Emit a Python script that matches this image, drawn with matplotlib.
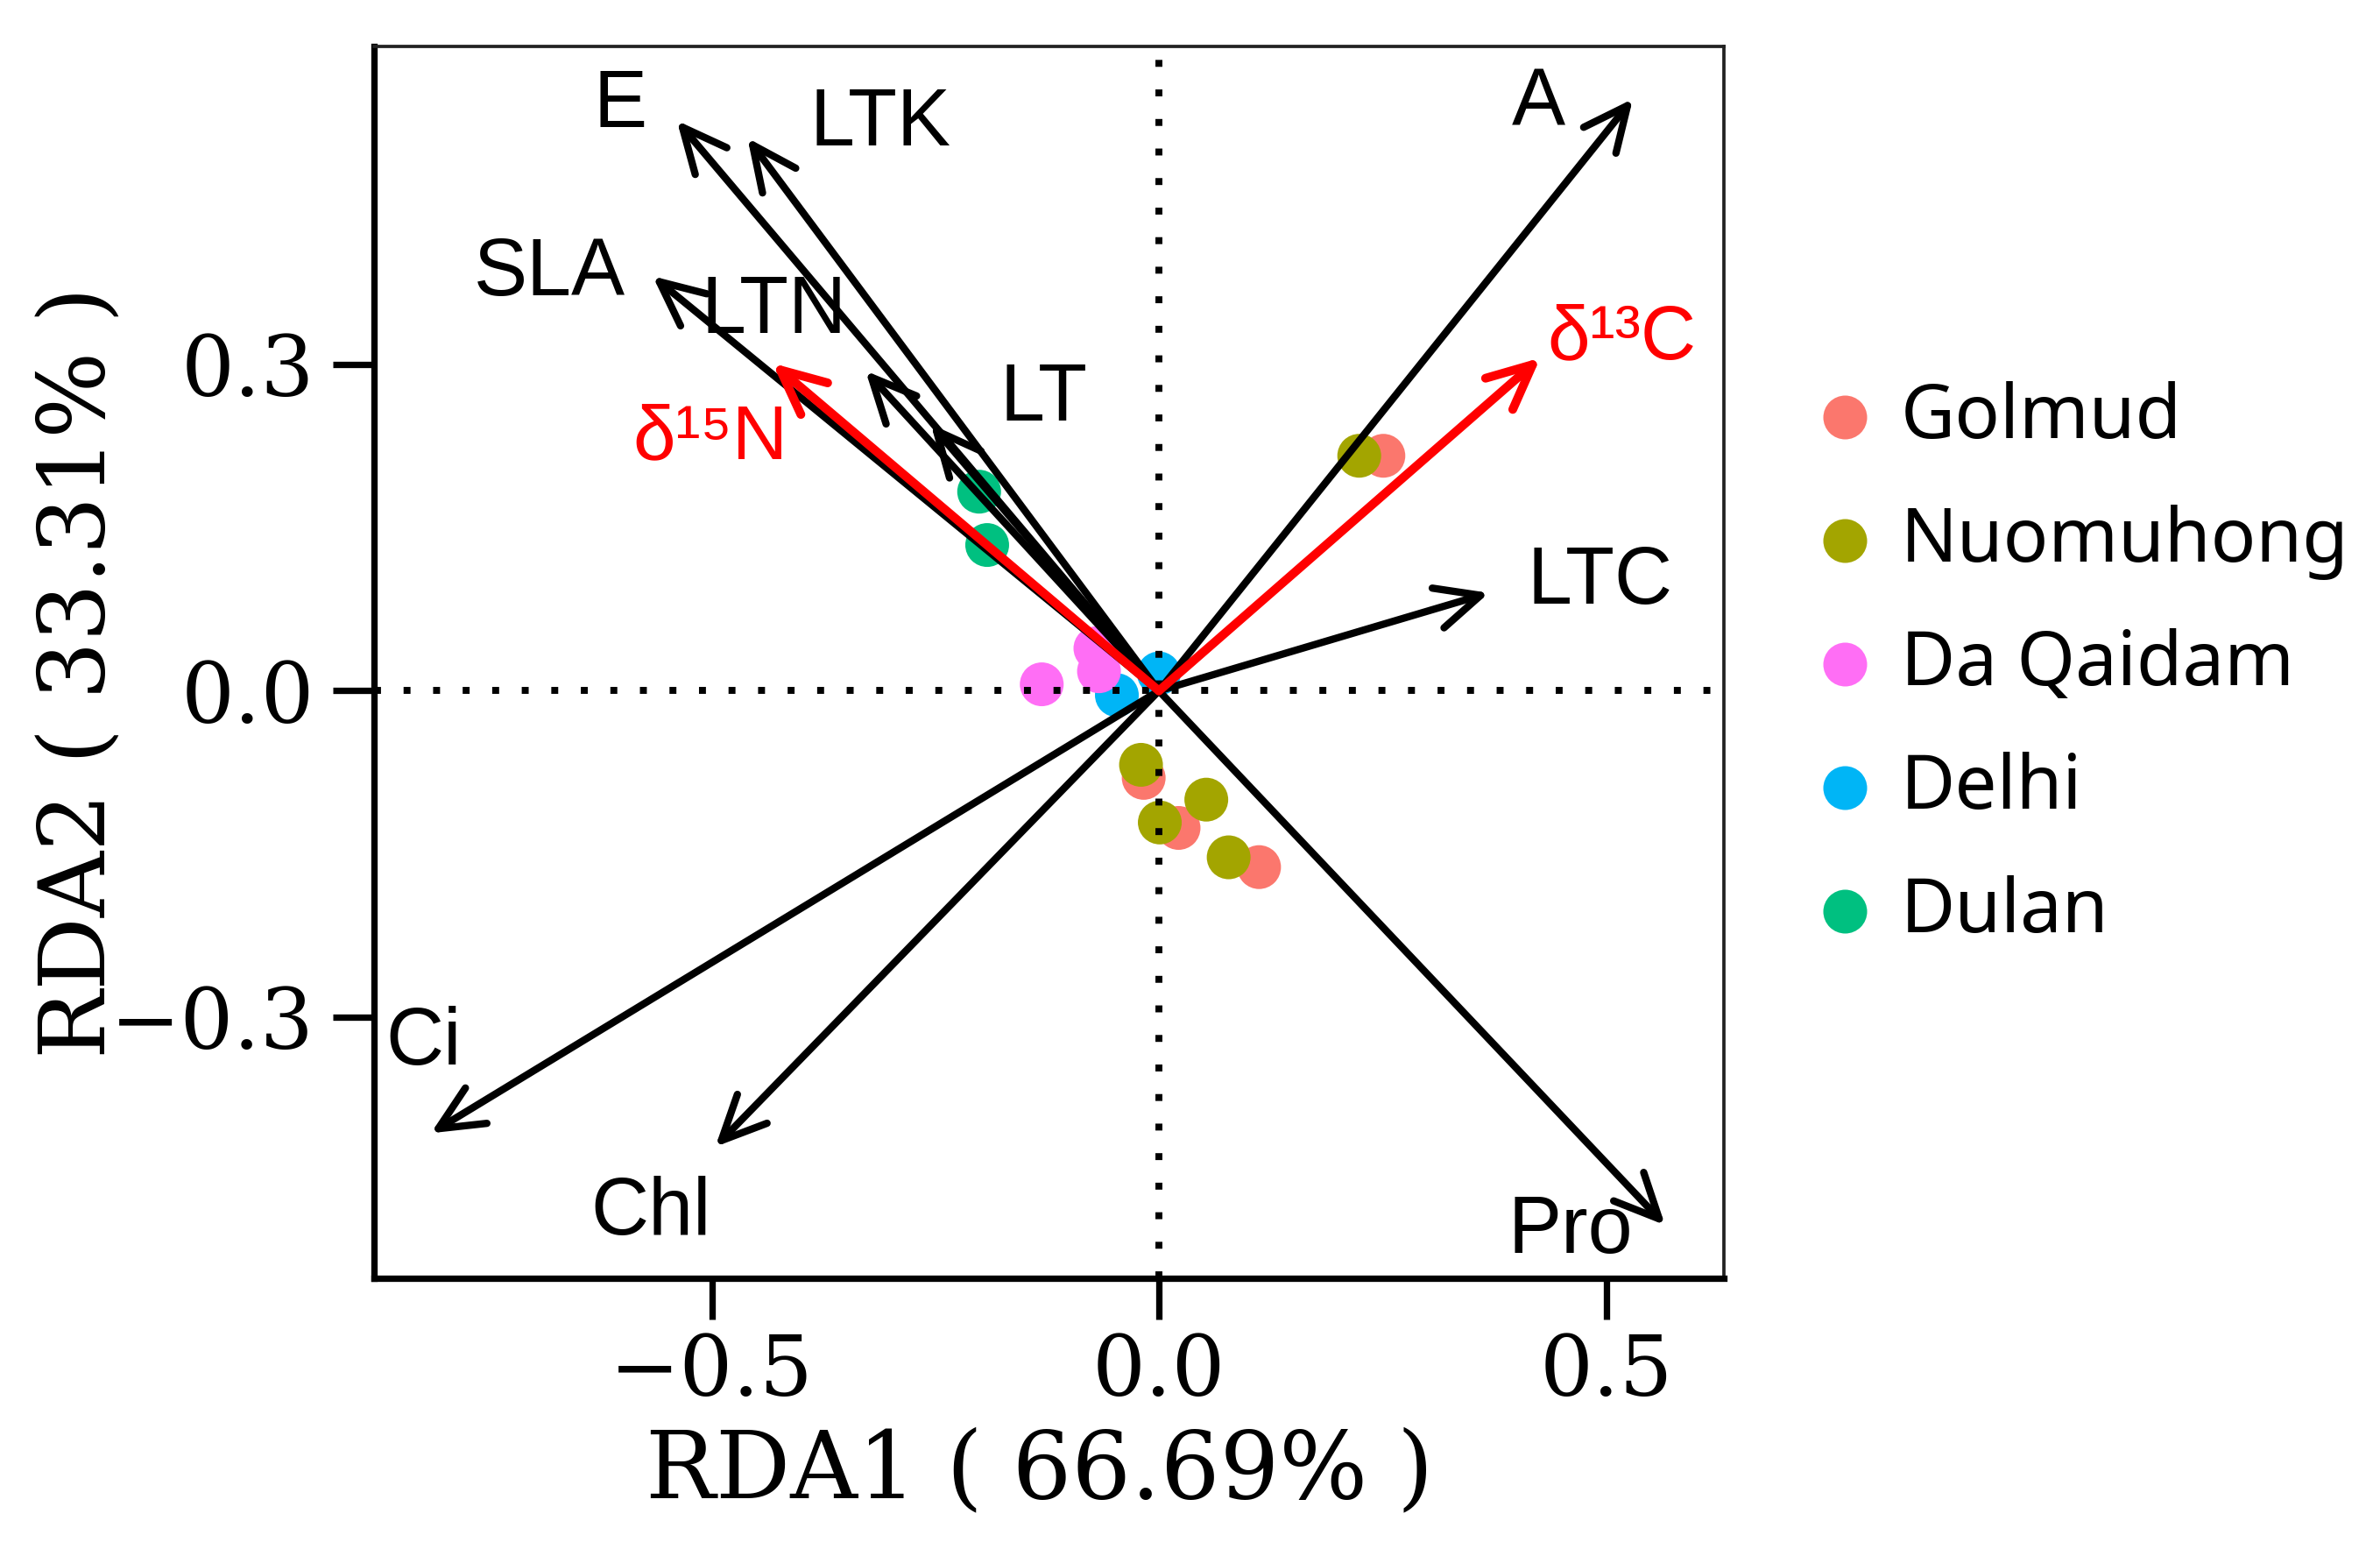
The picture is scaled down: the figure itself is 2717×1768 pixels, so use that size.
import matplotlib
matplotlib.use("Agg")
import matplotlib.pyplot as plt
from matplotlib.patches import ArrowStyle
from matplotlib.lines import Line2D

plt.rcParams["font.family"] = ["Liberation Sans", "DejaVu Sans"]

# sites (scores on RDA1 / RDA2)
groups = ["Golmud", "Nuomuhong", "Da Qaidam", "Delhi", "Dulan"]
colors = ["#FB776D", "#A3A500", "#FF6EF5", "#00B5F6", "#00C080"]

golmud_x = [0.251, -0.017, 0.022, 0.112]
golmud_y = [0.216, -0.080, -0.126, -0.162]
nuomuhong_x = [0.224, -0.020, 0.053, 0.001, 0.078]
nuomuhong_y = [0.216, -0.068, -0.100, -0.121, -0.153]
daqaidam_x = [-0.131, -0.067, -0.071]
daqaidam_y = [0.006, 0.018, 0.039]
delhi_x = [-0.047, 0.000]
delhi_y = [-0.004, 0.016]
dulan_x = [-0.201, -0.192]
dulan_y = [0.183, 0.134]

site_x = {"Golmud": golmud_x, "Nuomuhong": nuomuhong_x, "Da Qaidam": daqaidam_x,
          "Delhi": delhi_x, "Dulan": dulan_x}
site_y = {"Golmud": golmud_y, "Nuomuhong": nuomuhong_y, "Da Qaidam": daqaidam_y,
          "Delhi": delhi_y, "Dulan": dulan_y}
draw_order = ["Golmud", "Nuomuhong", "Delhi", "Da Qaidam", "Dulan"]

# trait vectors (arrow tips)
traits = ["E", "LTK", "SLA", "LTN", "LT", "A", "LTC", "Ci", "Chl", "Pro"]
trait_x = [-0.539, -0.460, -0.566, -0.328, -0.255, 0.530, 0.369, -0.814, -0.496, 0.566]
trait_y = [0.524, 0.508, 0.381, 0.294, 0.245, 0.544, 0.090, -0.4065, -0.419, -0.491]

# isotope vectors (red)
iso = ["δ¹⁵N", "δ¹³C"]
iso_x = [-0.432, 0.4265]
iso_y = [0.301, 0.306]

# label placement (centre x, baseline y)
trait_lab_x = [-0.6025, -0.3118, -0.681, -0.4306, -0.1285, 0.4248, 0.4936, -0.8224, -0.568, 0.4597]
trait_lab_y = [0.5178, 0.5014, 0.3638, 0.3289, 0.2487, 0.519, 0.0801, -0.3434, -0.4998, -0.5165]
iso_lab_x = [-0.588, 0.4346]
iso_lab_y = [0.2138, 0.3056]

W, H = 2717, 1768
fig = plt.figure(figsize=(W / 300, H / 300), dpi=300)
ax = fig.add_axes([426.5 / W, 1 - 1459 / H, (1967.7 - 426.5) / W, (1459 - 52.6) / H])

for g in draw_order:
    c = colors[groups.index(g)]
    ax.scatter(site_x[g], site_y[g], s=144, color=c, edgecolors="none", zorder=2)

ax.axhline(0, color="black", lw=1.9, ls=(0, (1, 3.26)), dash_capstyle="butt", zorder=3)
ax.axvline(0, color="black", lw=1.9, ls=(0, (1, 3.26)), dash_capstyle="butt", zorder=3)

head = ArrowStyle("->", head_length=0.45, head_width=0.21)
for name, x, y, lx, ly in zip(traits, trait_x, trait_y, trait_lab_x, trait_lab_y):
    ax.annotate("", xy=(x, y), xytext=(0, 0),
                arrowprops=dict(arrowstyle=head, lw=2.0, color="black", mutation_scale=27,
                                shrinkA=0, shrinkB=0), zorder=4)
    ax.text(lx, ly, name, fontsize=22, ha="center", va="baseline", color="black", zorder=5)

red = "#FF0000"
for name, x, y, lx, ly in zip(iso, iso_x, iso_y, iso_lab_x, iso_lab_y):
    ax.annotate("", xy=(x, y), xytext=(0, 0),
                arrowprops=dict(arrowstyle=head, lw=2.4, color=red, mutation_scale=27,
                                shrinkA=0, shrinkB=0), zorder=4)
    ax.text(lx, ly, name, fontsize=21, ha="left", va="baseline", color=red, zorder=5)

ax.set_xlim((426.5 - 1323) / 1021, (1967.7 - 1323) / 1021)
ax.set_ylim((788.5 - 1459) / 1242, (788.5 - 52.6) / 1242)

ax.set_xticks([-0.5, 0.0, 0.5])
ax.set_xticklabels(["−0.5", "0.0", "0.5"])
ax.set_yticks([-0.3, 0.0, 0.3])
ax.set_yticklabels(["−0.3", "0.0", "0.3"])
for lab in ax.get_xticklabels() + ax.get_yticklabels():
    lab.set_fontfamily("DejaVu Serif")
    lab.set_fontsize(23)
ax.tick_params(axis="both", direction="out", length=11.2, width=1.75, color="black")
ax.tick_params(axis="x", pad=3.5)
ax.tick_params(axis="y", pad=5)

for side in ["left", "bottom"]:
    ax.spines[side].set_linewidth(1.75)
    ax.spines[side].set_color("black")
for side in ["top", "right"]:
    ax.spines[side].set_linewidth(0.9)
    ax.spines[side].set_color("#222222")

fig.text(1187 / W, 1 - 1680 / H, "RDA1 ( 66.69% )", fontsize=25.5, family="DejaVu Serif",
         ha="center", va="center")
fig.text(92 / W, 1 - 768 / H, "RDA2 ( 33.31% )", fontsize=25, family="DejaVu Serif",
         ha="center", va="center", rotation=90)

# legend
for i, (g, c) in enumerate(zip(groups, colors)):
    base = 499.6 + 141 * i
    fig.add_artist(Line2D([2106 / W], [1 - (base - 23.5) / H], transform=fig.transFigure,
                          marker="o", ms=12, color=c, ls="none", markeredgewidth=0))
    fig.text(2170 / W, 1 - base / H, g, fontsize=20.5, family="Noto Sans", va="baseline", ha="left")

fig.savefig("out.png", dpi=300)
